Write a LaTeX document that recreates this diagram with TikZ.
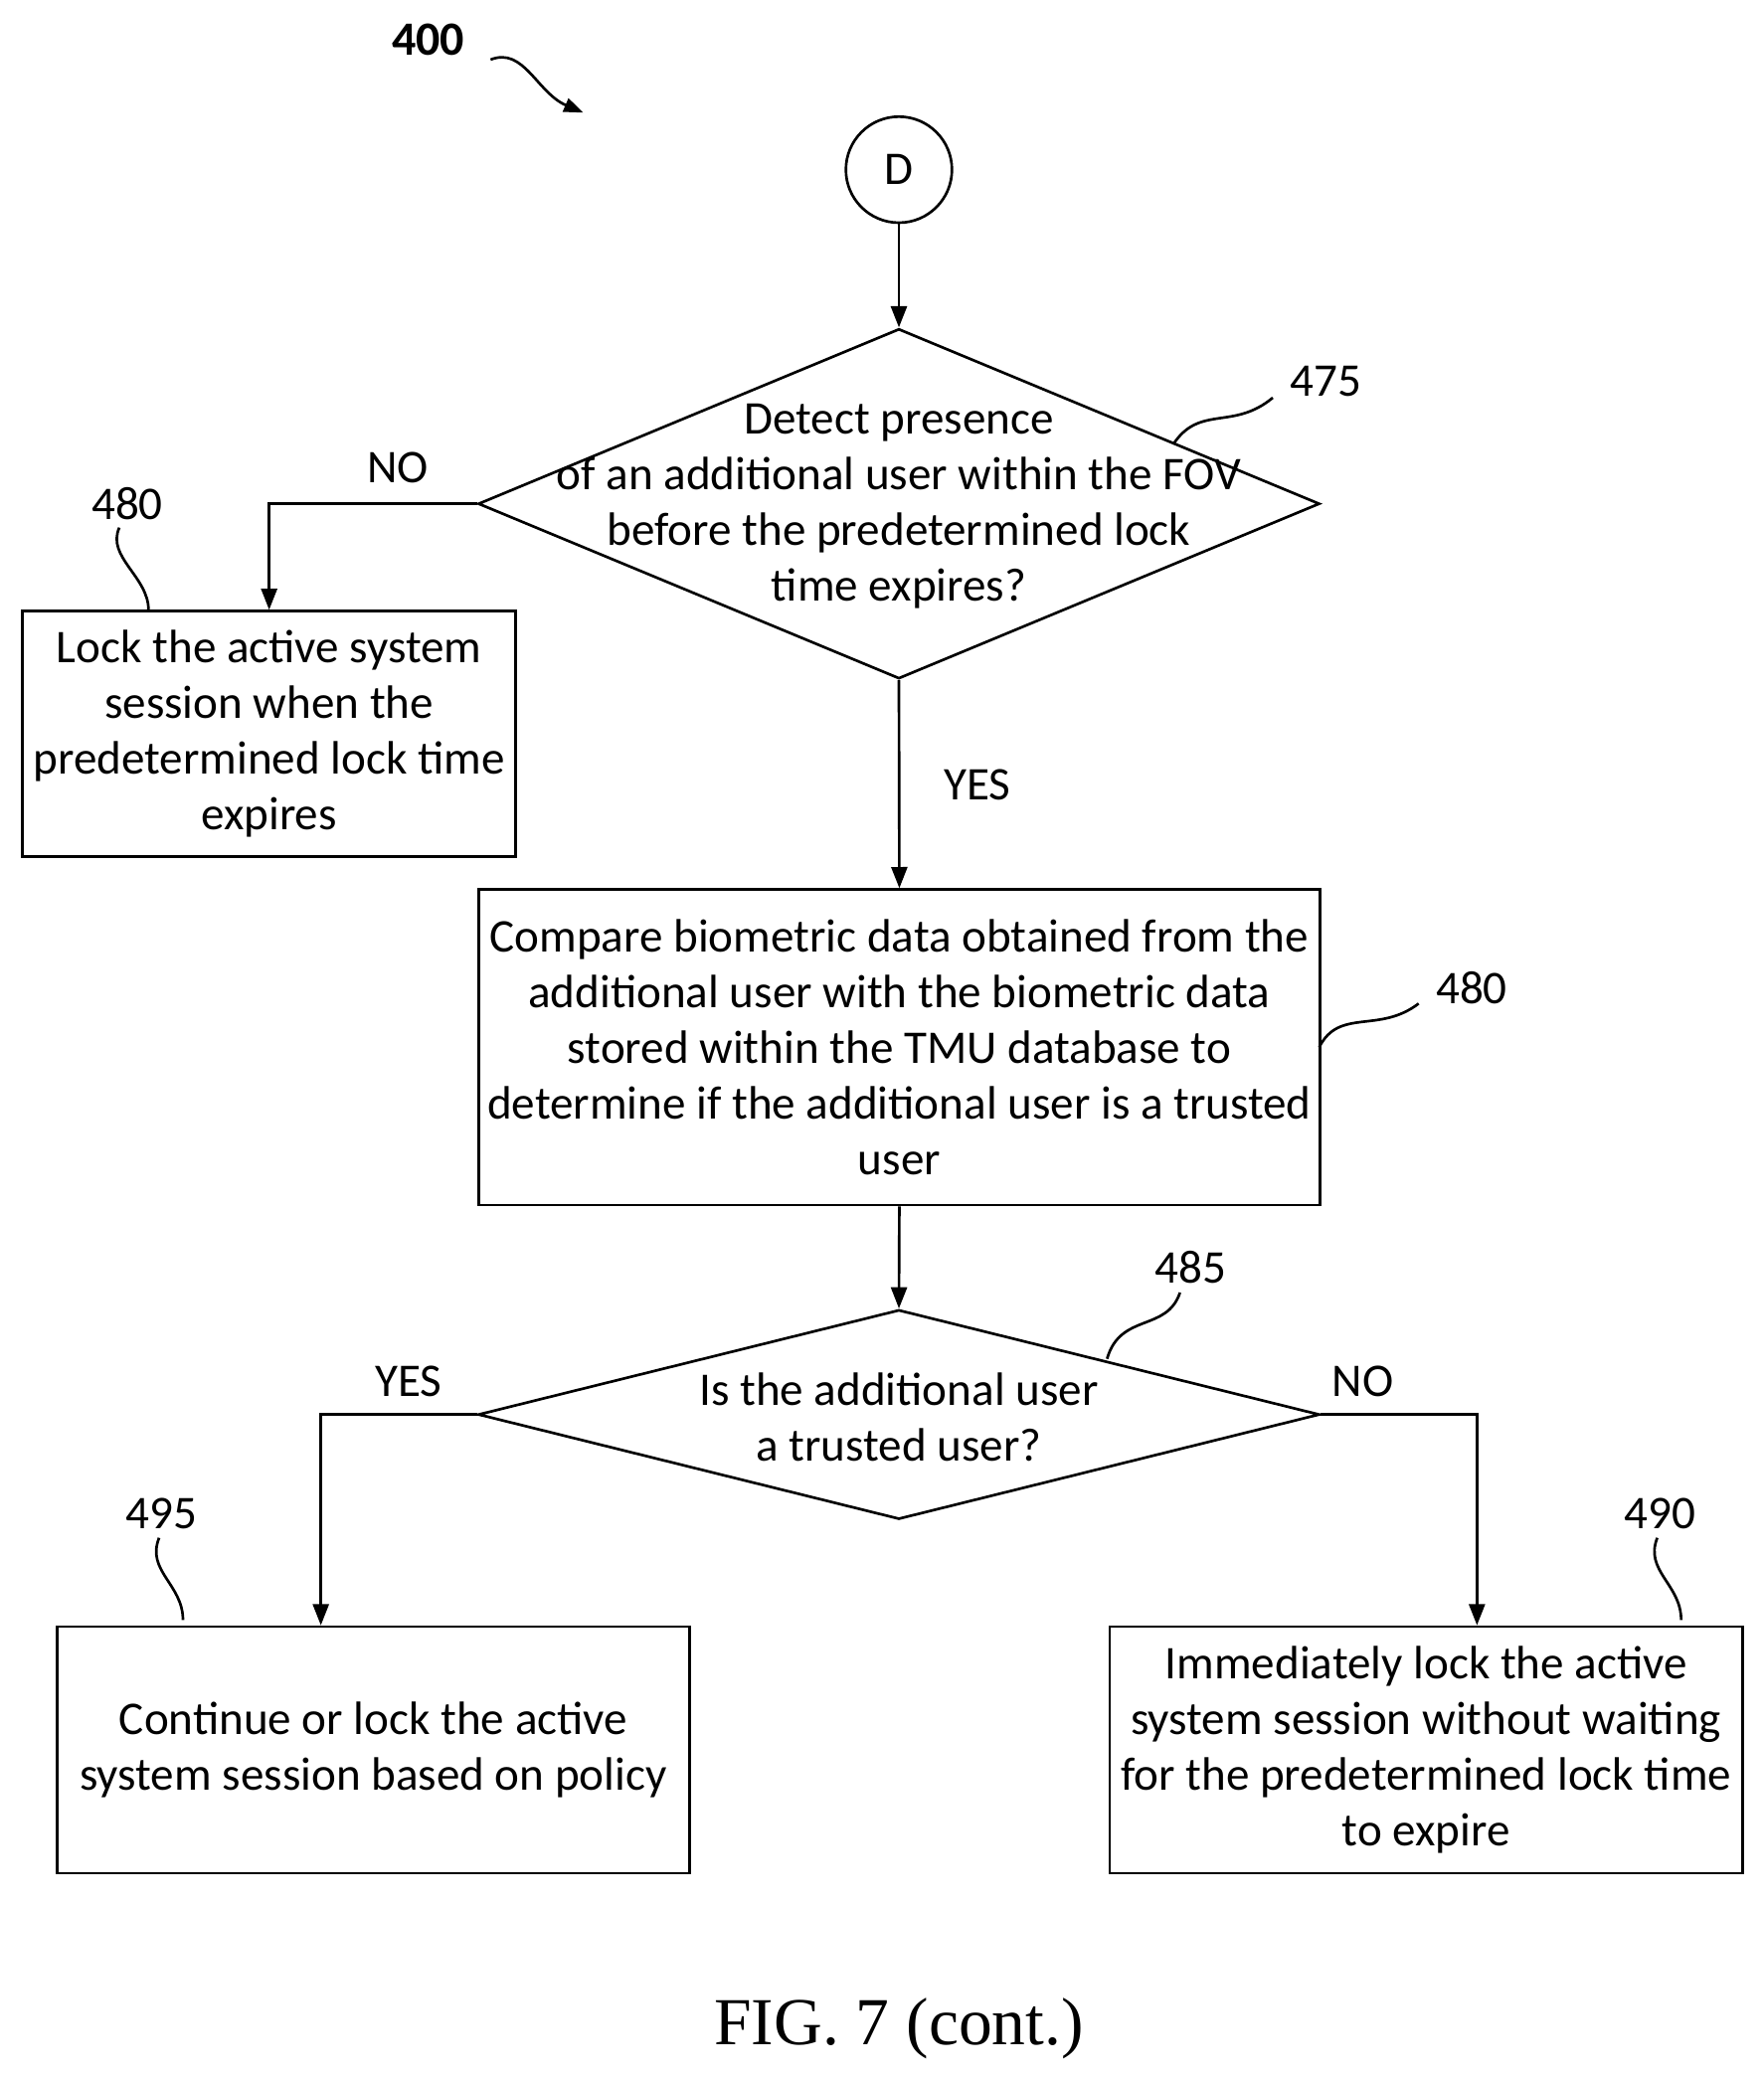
\documentclass[tikz,border=0pt]{standalone}
\usepackage{fontspec}
\setmainfont{Carlito}
\newfontfamily\capfont{Liberation Serif}
\usetikzlibrary{shapes.geometric,arrows.meta}
\begin{document}
\begin{tikzpicture}[x=0.75pt,y=0.75pt,yscale=-1,
  every node/.style={font=\fontsize{26.5}{31.5}\selectfont},
  box/.style={draw,line width=1.5pt,anchor=north west,inner sep=0pt},
  dec/.style={draw,diamond,line width=1.5pt,inner sep=0pt},
  txt/.style={align=center,inner sep=0pt},
  arr/.style={line width=1.5pt,-{Triangle[length=12pt,width=9pt]}},
  wig/.style={line width=1.5pt}]
\useasboundingbox (0,0) rectangle (1330,1569);

% start
\node (d) [draw,circle,line width=1.5pt,minimum size=60pt,inner sep=0pt] at (678,128) {D};
\node (n400) [font=\fontsize{27}{27}\bfseries\selectfont] at (323,30) {400};
\coordinate (t400) at (440,85);
\draw [wig,-{Triangle[length=11pt,width=8pt]}] (370,45) .. controls (395,35) and (405,70) .. (t400);

% decision 475
\node (q1) [dec,minimum width=476pt,minimum height=198pt] at (678,380) {};
\node [txt] at (678,382) {Detect presence\\of an additional user within the FOV\\before the predetermined lock\\time expires?};
\node (l475) at (1000,288) {475};
\draw [wig] (960,300) .. controls (930,325) and (905,305) .. (885,335);
\draw [arr] (d) -- (q1.north);

% box 480 left
\node (b1) [box,minimum width=279pt,minimum height=139pt] at (16,460) {};
\node [txt] at (b1.center) {Lock the active system\\session when the\\predetermined lock time\\expires};
\node (l480a) at (96,380) {480};
\draw [wig] (90,398) .. controls (80,420) and (112,435) .. (112,460);
\node at (300,353) {NO};
\draw [arr] (q1.west) -| (b1.north);

% compare box
\node (b2) [box,minimum width=476pt,minimum height=178.5pt] at (360,670) {};
\node [txt] at (b2.center) {Compare biometric data obtained from the\\additional user with the biometric data\\stored within the TMU database to\\determine if the additional user is a trusted\\user};
\node (l480b) at (1110,745) {480};
\draw [wig] (1070,757) .. controls (1040,780) and (1010,760) .. (995,790);
\node at (737,592) {YES};
\draw [arr] (q1.south) -- (b2.north);

% decision 485
\node (q2) [dec,minimum width=476pt,minimum height=118.5pt] at (678,1067) {};
\node [txt] at (678,1069) {Is the additional user\\a trusted user?};
\node (l485) at (898,956) {485};
\draw [wig] (890,975) .. controls (880,1005) and (845,990) .. (835,1025);
\draw [arr] (b2.south) -- (q2.north);

% box 495
\node (b3) [box,minimum width=358pt,minimum height=139.5pt] at (42,1226) {};
\node [txt] at (b3.center) {Continue or lock the active\\system session based on policy};
\node (l495) at (122,1142) {495};
\draw [wig] (120,1160) .. controls (110,1185) and (138,1195) .. (138,1222);
\node at (308,1042) {YES};
\draw [arr] (q2.west) -| ([xshift=150pt]b3.north west);

% box 490
\node (b4) [box,minimum width=358pt,minimum height=139.5pt] at (836,1226) {};
\node [txt] at (b4.center) {Immediately lock the active\\system session without waiting\\for the predetermined lock time\\to expire};
\node (l490) at (1252,1142) {490};
\draw [wig] (1250,1160) .. controls (1240,1185) and (1268,1195) .. (1268,1222);
\node at (1028,1042) {NO};
\draw [arr] (q2.east) -| ([xshift=208.5pt]b4.north west);

\node (cap) [font=\fontsize{38}{38}\capfont\selectfont] at (678,1530) {FIG. 7 (cont.)};
\end{tikzpicture}
\end{document}
